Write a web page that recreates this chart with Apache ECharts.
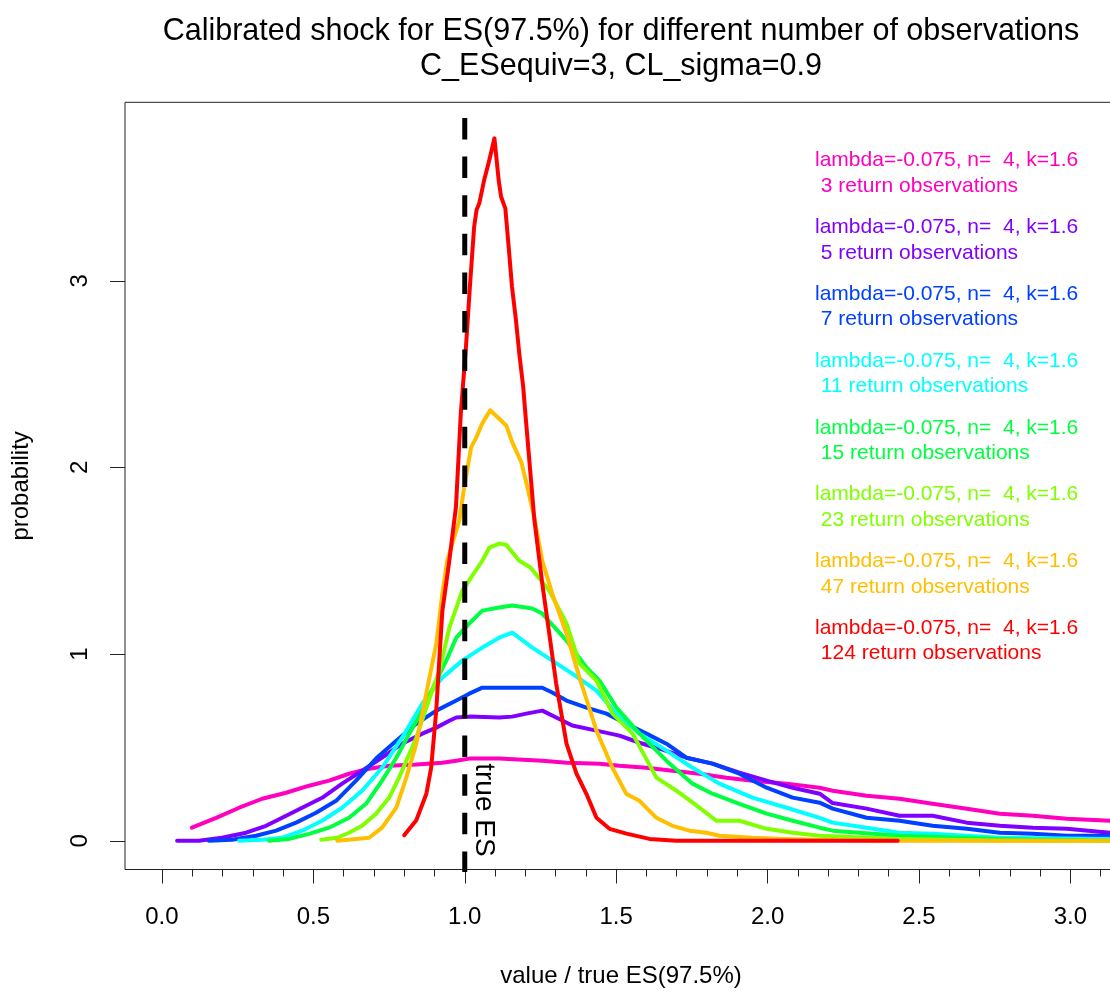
<!DOCTYPE html>
<html>
<head>
<meta charset="utf-8">
<script src="https://cdn.jsdelivr.net/npm/echarts@6/dist/echarts.min.js"></script>
<style>
html,body{margin:0;padding:0;background:#fff;}
#chart{width:1110px;height:992px;}
</style>
</head>
<body>
<div id="chart"></div>
<script>
// ---- data ----
const titleLines = ['Calibrated shock for ES(97.5%) for different number of observations', 'C_ESequiv=3, CL_sigma=0.9'];
const xAxisTitle = 'value / true ES(97.5%)';
const yAxisTitle = 'probability';
const xTickValues = [0, 0.5, 1, 1.5, 2, 2.5, 3];
const xMinorTickValues = [0.1,0.2,0.3,0.4,0.6,0.7,0.8,0.9,1.1,1.2,1.3,1.4,1.6,1.7,1.8,1.9,2.1,2.2,2.3,2.4,2.6,2.7,2.8,2.9,3.1];
const yTickValues = [0, 1, 2, 3];
const obsCounts = [3, 5, 7, 11, 15, 23, 47, 124];
const paramText = 'lambda=-0.075, n=  4, k=1.6';
const trueESValue = 1.0;
const trueESLabel = 'true ES';

const dens3 = [[0.099,0.07],[0.179,0.123],[0.255,0.177],[0.331,0.225],[0.410,0.257],[0.486,0.295],[0.552,0.322],[0.618,0.359],[0.684,0.386],[0.750,0.402],[0.840,0.408],[0.926,0.418],[0.972,0.429],[1.015,0.44],[1.114,0.44],[1.256,0.429],[1.336,0.418],[1.445,0.413],[1.511,0.402],[1.600,0.391],[1.686,0.375],[1.775,0.359],[1.864,0.338],[1.950,0.322],[2.063,0.306],[2.172,0.284],[2.215,0.268],[2.327,0.241],[2.436,0.225],[2.545,0.198],[2.658,0.172],[2.767,0.145],[2.876,0.134],[2.988,0.118],[3.131,0.107],[3.2,0.10]];
const dens5 = [[0.050,0],[0.122,0],[0.198,0.016],[0.278,0.043],[0.344,0.08],[0.397,0.123],[0.463,0.177],[0.529,0.23],[0.595,0.306],[0.661,0.375],[0.727,0.445],[0.793,0.52],[0.860,0.574],[0.906,0.606],[0.949,0.643],[0.972,0.66],[1.015,0.665],[1.114,0.66],[1.157,0.665],[1.203,0.681],[1.256,0.697],[1.302,0.66],[1.355,0.617],[1.435,0.59],[1.511,0.563],[1.577,0.525],[1.643,0.493],[1.732,0.445],[1.818,0.413],[1.907,0.365],[1.997,0.322],[2.083,0.284],[2.172,0.252],[2.215,0.202],[2.327,0.172],[2.436,0.134],[2.545,0.134],[2.658,0.097],[2.767,0.08],[2.876,0.07],[2.988,0.064],[3.131,0.043],[3.2,0.04]];
const dens7 = [[0.155,0],[0.231,0.005],[0.311,0.027],[0.377,0.054],[0.443,0.097],[0.509,0.15],[0.575,0.214],[0.641,0.322],[0.707,0.44],[0.774,0.536],[0.840,0.627],[0.906,0.697],[0.972,0.751],[1.015,0.788],[1.058,0.82],[1.114,0.82],[1.256,0.82],[1.289,0.794],[1.336,0.751],[1.402,0.713],[1.468,0.681],[1.534,0.627],[1.600,0.574],[1.666,0.52],[1.732,0.445],[1.818,0.413],[1.907,0.359],[1.997,0.284],[2.083,0.231],[2.172,0.204],[2.215,0.172],[2.327,0.123],[2.436,0.107],[2.545,0.08],[2.658,0.064],[2.767,0.043],[2.876,0.037],[2.988,0.027],[3.131,0.027],[3.2,0.025]];
const dens11 = [[0.255,0],[0.331,0.005],[0.397,0.016],[0.463,0.054],[0.529,0.107],[0.595,0.177],[0.661,0.268],[0.727,0.391],[0.793,0.552],[0.860,0.735],[0.926,0.874],[0.992,0.965],[1.058,1.035],[1.114,1.088],[1.157,1.115],[1.223,1.035],[1.289,0.965],[1.355,0.895],[1.435,0.804],[1.501,0.681],[1.577,0.574],[1.666,0.483],[1.752,0.391],[1.841,0.306],[1.950,0.231],[2.063,0.177],[2.172,0.123],[2.215,0.097],[2.327,0.07],[2.436,0.043],[2.545,0.037],[2.767,0.016],[3.131,0.01],[3.2,0.01]];
const dens15 = [[0.354,0],[0.420,0.01],[0.486,0.037],[0.552,0.07],[0.618,0.123],[0.674,0.198],[0.727,0.322],[0.774,0.445],[0.817,0.574],[0.860,0.697],[0.906,0.858],[0.939,0.965],[0.972,1.088],[1.015,1.164],[1.058,1.233],[1.114,1.25],[1.157,1.26],[1.223,1.244],[1.256,1.217],[1.336,1.072],[1.402,0.928],[1.445,0.858],[1.501,0.713],[1.577,0.574],[1.666,0.429],[1.752,0.306],[1.818,0.252],[1.907,0.198],[1.997,0.145],[2.083,0.107],[2.172,0.07],[2.215,0.054],[2.436,0.027],[2.767,0.01],[3.131,0],[3.2,0]];
const dens23 = [[0.526,0.005],[0.579,0.016],[0.618,0.043],[0.661,0.08],[0.707,0.145],[0.750,0.23],[0.783,0.338],[0.817,0.466],[0.840,0.552],[0.873,0.713],[0.916,0.91],[0.949,1.14],[0.992,1.34],[1.058,1.50],[1.081,1.57],[1.114,1.592],[1.137,1.585],[1.180,1.50],[1.217,1.464],[1.279,1.34],[1.336,1.164],[1.379,0.949],[1.435,0.858],[1.488,0.681],[1.554,0.574],[1.633,0.338],[1.699,0.268],[1.775,0.177],[1.831,0.107],[1.907,0.107],[1.997,0.064],[2.083,0.043],[2.172,0.027],[2.436,0.01],[2.767,0],[3.2,0]];
const dens47 = [[0.579,0],[0.641,0.01],[0.684,0.016],[0.727,0.07],[0.774,0.177],[0.807,0.338],[0.840,0.52],[0.873,0.79],[0.906,1.056],[0.926,1.324],[0.942,1.50],[0.982,1.716],[0.998,1.893],[1.021,2.107],[1.038,2.16],[1.058,2.236],[1.084,2.306],[1.137,2.225],[1.157,2.134],[1.187,2.027],[1.207,1.893],[1.230,1.73],[1.256,1.50],[1.289,1.324],[1.336,1.11],[1.379,0.874],[1.435,0.59],[1.488,0.39],[1.534,0.25],[1.577,0.214],[1.633,0.123],[1.686,0.08],[1.742,0.054],[1.798,0.043],[1.841,0.027],[1.950,0.016],[2.050,0.01],[2.172,0.005],[2.436,0],[3.2,0]];
const dens124 = [[0.800,0.03],[0.840,0.11],[0.873,0.25],[0.889,0.39],[0.906,0.70],[0.916,0.97],[0.926,1.23],[0.949,1.50],[0.971,1.789],[0.987,2.29],[1.004,2.646],[1.017,2.968],[1.031,3.289],[1.039,3.379],[1.048,3.415],[1.064,3.539],[1.081,3.646],[1.098,3.763],[1.112,3.539],[1.120,3.45],[1.134,3.388],[1.145,3.182],[1.156,2.968],[1.169,2.79],[1.180,2.611],[1.193,2.432],[1.202,2.254],[1.216,1.986],[1.230,1.718],[1.256,1.378],[1.279,1.11],[1.302,0.842],[1.336,0.52],[1.369,0.36],[1.402,0.25],[1.435,0.123],[1.478,0.064],[1.534,0.038],[1.610,0.01],[1.699,0],[2.430,0]];
const trueESLine = [[1.0, 3.872], [1.0, -0.3]];

const densities = [dens3, dens5, dens7, dens11, dens15, dens23, dens47, dens124];

// ---- styles ----
const colors = ['#FF00BF', '#8000FF', '#0040FF', '#00FFFF', '#00FF40', '#80FF00', '#FFBF00', '#FF0000'];
const FONT = 'Liberation Sans, Arial, sans-serif';

const chart = echarts.init(document.getElementById('chart'), null, {renderer: 'canvas'});

const series = densities.map((d, i) => ({
  type: 'line',
  name: obsCounts[i] + ' return observations',
  data: d,
  showSymbol: false,
  symbol: 'none',
  smooth: false,
  clip: true,
  lineStyle: {color: colors[i], width: 4, cap: 'round', join: 'round'},
  z: 2 + i,
  animation: false
}));
series.push({
  type: 'line',
  name: trueESLabel,
  data: trueESLine,
  showSymbol: false,
  symbol: 'none',
  clip: true,
  lineStyle: {color: '#000', width: 5, type: [21.5, 17.1], cap: 'butt'},
  z: 20,
  animation: false
});

const xMin = -0.122, xMax = 3.154;
const yMin = -0.154, yMax = 3.956;

const legendGraphics = [];
obsCounts.forEach((n, i) => {
  const y1 = 160.7 + i * 66.8;
  legendGraphics.push({
    type: 'text', x: 815, y: y1,
    style: {text: paramText, fill: colors[i], font: '21px ' + FONT, textAlign: 'left', textVerticalAlign: 'middle'}
  });
  legendGraphics.push({
    type: 'text', x: 815, y: y1 + 25.3,
    style: {text: ' ' + n + ' return observations', fill: colors[i], font: '21px ' + FONT, textAlign: 'left', textVerticalAlign: 'middle'}
  });
});

chart.setOption({
  animation: false,
  backgroundColor: '#fff',
  textStyle: {fontFamily: FONT},
  title: {
    text: titleLines.join('\n'),
    left: 616, top: 9.5, textAlign: 'center',
    textStyle: {fontSize: 30.5, fontWeight: 'normal', color: '#000', lineHeight: 35, fontFamily: FONT}
  },
  grid: {
    left: 125, top: 102.3, right: -7, bottom: 122.5,
    show: true, borderColor: '#222', borderWidth: 1, backgroundColor: 'transparent',
    containLabel: false, outerBoundsMode: 'none'
  },
  xAxis: [{
    type: 'value', min: xMin, max: xMax, position: 'bottom',
    name: xAxisTitle, nameLocation: 'middle', nameGap: 95,
    nameTextStyle: {fontSize: 24, color: '#000', fontFamily: FONT},
    axisLine: {show: false, onZero: false},
    axisTick: {show: true, length: 14, customValues: xTickValues, lineStyle: {color: '#222', width: 1}},
    axisLabel: {show: true, customValues: xTickValues, margin: 36, fontSize: 24, color: '#000', fontFamily: FONT,
      formatter: v => v.toFixed(1)},
    splitLine: {show: false}
  }, {
    type: 'value', min: xMin, max: xMax, position: 'bottom',
    axisLine: {show: false, onZero: false},
    axisTick: {show: true, length: 7, customValues: xMinorTickValues, lineStyle: {color: '#222', width: 1}},
    axisLabel: {show: false},
    splitLine: {show: false}
  }],
  yAxis: {
    type: 'value', min: yMin, max: yMax, position: 'left',
    name: yAxisTitle, nameLocation: 'middle', nameGap: 92, nameRotate: 90,
    nameTextStyle: {fontSize: 24, color: '#000', fontFamily: FONT},
    axisLine: {show: false, onZero: false},
    axisTick: {show: true, length: 15, customValues: yTickValues, lineStyle: {color: '#222', width: 1}},
    axisLabel: {show: true, customValues: yTickValues, rotate: 90, margin: 33, fontSize: 24, color: '#000', fontFamily: FONT,
      formatter: v => String(v)},
    splitLine: {show: false}
  },
  series: series,
  graphic: legendGraphics
});

// "true ES" label placed through the chart's own scale
const esPos = chart.convertToPixel({xAxisIndex: 0, yAxisIndex: 0}, [trueESValue, 0.165]);
chart.setOption({
  graphic: legendGraphics.concat([{
    type: 'text', x: esPos[0] + 19, y: esPos[1], rotation: -Math.PI / 2,
    style: {text: trueESLabel, fill: '#000', font: '28px ' + FONT, textAlign: 'center', textVerticalAlign: 'middle'}
  }])
});
</script>
</body>
</html>
